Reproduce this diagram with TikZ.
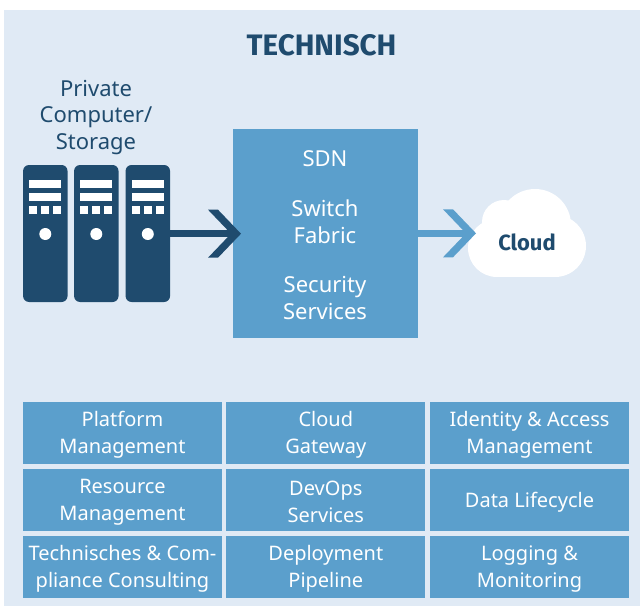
\documentclass[tikz,border=0pt]{standalone}
\usepackage{fontspec}
\setmainfont{Noto Sans}
\newfontfamily\headfont{Fira Sans}
\usetikzlibrary{positioning}
\definecolor{panelblue}{HTML}{E0EAF5}
\definecolor{boxblue}{HTML}{5B9FCC}
\definecolor{darkblue}{HTML}{1F4B6E}
\tikzset{
  tile/.style={fill=boxblue, inner sep=0pt, minimum width=199pt, minimum height=62pt},
  tiletext/.style={text=white, align=center, font=\fontsize{20}{27}\selectfont},
  server/.style={fill=darkblue, rounded corners=6pt, inner sep=0pt, minimum width=44.5pt, minimum height=137pt},
  chevron/.pic={\fill (-33,-24) -- (-23,-24) -- (0,0) -- (-23,24) -- (-33,24) -- (-10,0) -- cycle;}
}

\begin{document}
\begin{tikzpicture}[x=1pt,y=-1pt]
  \useasboundingbox (0,0) rectangle (640,606);
  \fill[panelblue] (4,10) rectangle (640,606);
  \node[text=darkblue, font=\headfont\fontsize{29.6}{32}\selectfont\bfseries] (title) at (321.5,45) {TECHNISCH};
  \node[text=darkblue, align=center, font=\fontsize{22}{26.5}\selectfont] (private) at (96,117.5) {Private\\Computer/\\Storage};
  % the three servers
  \foreach \name/\x in {srvA/45.3, srvB/96.3, srvC/147.8} {
    \node[server] (\name) at (\x,233.5) {};
    \fill[white] (\x-16.3,180) rectangle (\x+15.7,188);
    \fill[white] (\x-16.3,193) rectangle (\x+15.7,201);
    \foreach \dx in {-16.3,-4.3,7.7}
      \fill[white] (\x+\dx,206) rectangle (\x+\dx+8,214);
    \fill[white] (\x,234) circle (6);
  }
  % middle block
  \node[fill=boxblue, text=white, inner sep=0pt, minimum width=185pt, minimum height=209pt] (fabric) at (325.5,233.5) {};
  \node[text=white, font=\fontsize{22}{27}\selectfont] (sdn) at (325,159) {SDN};
  \node[text=white, align=center, font=\fontsize{22}{27}\selectfont] (switch) at (325,221.5) {Switch\\Fabric};
  \node[text=white, align=center, font=\fontsize{22}{27}\selectfont] (security) at (325,298) {Security\\Services};
  % cloud
  \fill[white] (504,222) circle (22) (535,225) circle (36) (555,246) circle (31) (497,248) circle (29);
  \fill[white] (497,235) rectangle (555,277);
  \node[text=darkblue, font=\headfont\fontsize{22}{26}\selectfont\bfseries] (cloud) at (527,242) {Cloud};
  % arrows
  \coordinate (tipA) at (241,233.7);
  \coordinate (tipB) at (476,233.3);
  \draw[darkblue, line width=7pt] (srvC.east |- tipA) -- (tipA -| 233,0);
  \path (tipA) pic[darkblue] {chevron};
  \draw[boxblue, line width=7.5pt] (fabric.east |- tipB) -- (tipB -| 468,0);
  \path (tipB) pic[boxblue] {chevron};
  % tiles
  \foreach \name/\x/\y/\txt in {
    t11/122.5/433/{Platform\\Management},
    t12/325.8/433/{Cloud\\Gateway},
    t13/529.5/433/{Identity \& Access\\Management},
    t21/122.5/500/{Resource\\Management},
    t22/325.8/500/{DevOps\\Services},
    t23/529.5/500/{Data Lifecycle},
    t31/122.5/567/{Technisches \& Com-\\pliance Consulting},
    t32/325.8/567/{Deployment\\Pipeline},
    t33/529.5/567/{Logging \&\\Monitoring}} {
    \node[tile] (\name) at (\x,\y) {};
    \node[tiletext] (\name-text) at (\x,\y+2.2) {\txt};
  }
\end{tikzpicture}
\end{document}
